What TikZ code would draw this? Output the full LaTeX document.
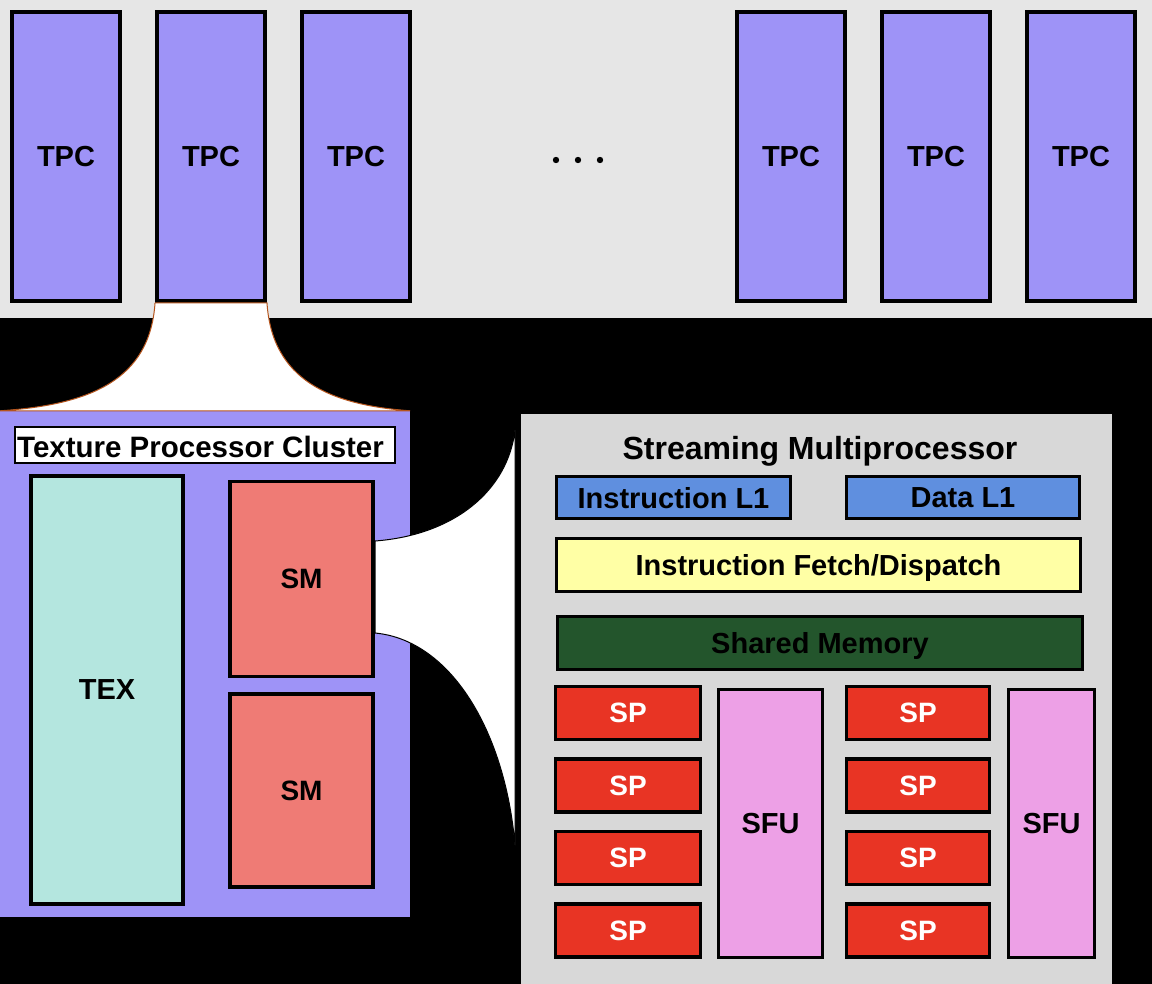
\documentclass[tikz,border=0pt]{standalone}
\usepackage{fontspec}
\setmainfont{Liberation Sans}
\definecolor{band}{HTML}{E6E6E6}
\definecolor{lav}{HTML}{9E93F7}
\definecolor{texc}{HTML}{B4E6DF}
\definecolor{smc}{HTML}{EF7B75}
\definecolor{mpc}{HTML}{D8D8D8}
\definecolor{l1c}{HTML}{5F8FDF}
\definecolor{ifdc}{HTML}{FFFFA5}
\definecolor{shc}{HTML}{23552C}
\definecolor{spc}{HTML}{E83424}
\definecolor{sfuc}{HTML}{EDA0E6}
\definecolor{func}{HTML}{B5541C}
\tikzset{
  blk/.style={draw=black, line width=3.5pt, rectangle, inner sep=0pt, text depth=0pt, font=\bfseries\fontsize{29}{33}\selectfont},
  tpcbox/.style={blk, fill=lav, line width=4pt, minimum width=108pt, minimum height=289pt, font=\bfseries\fontsize{29}{34}\selectfont},
  spbox/.style={blk, fill=spc, text=white, minimum width=145pt, minimum height=53pt, font=\bfseries\fontsize{28}{32}\selectfont},
  sfubox/.style={blk, fill=sfuc, minimum height=268pt},
}
\begin{document}
\begin{tikzpicture}[x=1pt,y=-1pt]
\useasboundingbox (0,0) rectangle (1152,984);
\fill[black] (0,0) rectangle (1152,984);
\fill[band] (0,0) rectangle (1152,318);
% TPCs
\node[tpcbox] (t1) at (66,156.5) {TPC};
\node[tpcbox] (t2) at (211,156.5) {TPC};
\node[tpcbox] (t3) at (356,156.5) {TPC};
\node[tpcbox] (t4) at (791,156.5) {TPC};
\node[tpcbox] (t5) at (936,156.5) {TPC};
\node[tpcbox] (t6) at (1081,156.5) {TPC};
\fill (556,160) circle (3.2pt) (578,160) circle (3.2pt) (600,160) circle (3.2pt);
% Cluster
\node[rectangle, fill=lav, minimum width=410pt, minimum height=506pt, inner sep=0pt] (clu) at (205,664) {};
\node[draw=black, line width=1.5pt, fill=white, minimum width=380pt, minimum height=36pt, inner sep=0pt] (clab) at (205,445) {};
\node[anchor=west, inner sep=0pt, font=\bfseries\fontsize{29.5}{32}\selectfont] at (17,447) {Texture Processor Cluster};
% funnel TPC -> cluster
\fill[white] (t2.south west) .. controls (150,380) and (90,405) .. (clu.north west) -- (clu.north east) .. controls (330,405) and (272,380) .. (t2.south east) -- cycle;
\draw[func, line width=1pt] (t2.south west) .. controls (150,380) and (90,405) .. (clu.north west) -- (clu.north east) .. controls (330,405) and (272,380) .. (t2.south east) -- (t2.south west);
\node[blk, fill=texc, minimum width=152pt, minimum height=428pt] (tex) at (107,690) {TEX};
\node[blk, fill=smc, minimum width=143pt, minimum height=195pt, font=\bfseries\fontsize{28}{32}\selectfont] (sm1) at (301.5,579) {SM};
\node[blk, fill=smc, minimum width=143pt, minimum height=193pt, font=\bfseries\fontsize{28}{32}\selectfont] (sm2) at (301.5,790.5) {SM};
% Streaming multiprocessor
\node[draw=black, line width=3pt, fill=mpc, rectangle, inner sep=0pt, minimum width=594pt, minimum height=580pt] (mp) at (816,703) {};
\coordinate (fa) at (375,541);
\coordinate (fb) at (375,633);
\coordinate (fc) at (515,430);
\coordinate (fd) at (515,845);
\filldraw[fill=white, draw=black, line width=1pt] (fa) .. controls (455,535) and (508,490) .. (fc) -- (fd) .. controls (505,730) and (450,640) .. (fb) -- cycle;
\node[font=\bfseries\fontsize{32}{36}\selectfont] (mpt) at (820,451) {Streaming Multiprocessor};
\node[blk, fill=l1c, minimum width=234pt, minimum height=42pt] (il1) at (673.5,497.5) {Instruction L1};
\node[blk, fill=l1c, minimum width=233pt, minimum height=42pt] (dl1) at (963,497.5) {Data L1};
\node[blk, fill=ifdc, minimum width=524pt, minimum height=53pt] (ifd) at (818.5,565) {Instruction Fetch/Dispatch};
\node[blk, fill=shc, minimum width=525pt, minimum height=53pt] (shm) at (820,643) {Shared Memory};
\node[spbox] (sp1) at (628,713) {SP};
\node[spbox] (sp2) at (628,785.5) {SP};
\node[spbox] (sp3) at (628,858) {SP};
\node[spbox] (sp4) at (628,930.5) {SP};
\node[spbox, minimum width=143pt] (sp5) at (918,713) {SP};
\node[spbox, minimum width=143pt] (sp6) at (918,785.5) {SP};
\node[spbox, minimum width=143pt] (sp7) at (918,858) {SP};
\node[spbox, minimum width=143pt] (sp8) at (918,930.5) {SP};
\node[sfubox, minimum width=104pt] (sfu1) at (770.5,823.5) {SFU};
\node[sfubox, minimum width=86pt] (sfu2) at (1051.5,823.5) {SFU};
\end{tikzpicture}
\end{document}
